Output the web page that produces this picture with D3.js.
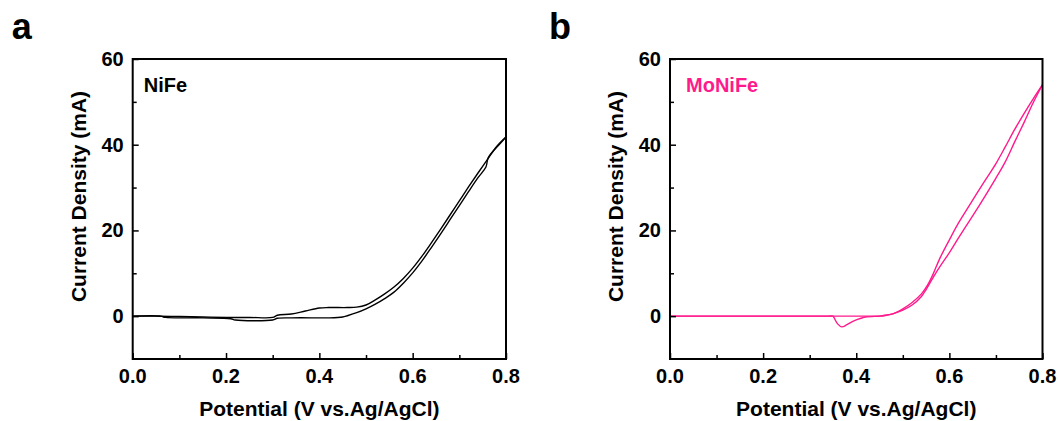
<!DOCTYPE html>
<html lang="en">
<head>
    <meta charset="UTF-8">
    <script src="https://d3js.org/d3.v7.min.js"></script>
    <title>NiFe vs MoNiFe CV</title>
    <style>
        html,
        body {
            margin: 0px;
            padding: 0px;
            background-color: #ffffff;
        }
        text {
            font-family: "Liberation Sans", Arial, sans-serif;
            font-weight: bold;
        }
    </style>
</head>
<body>
    <div id="chart"></div>
    <script>

        // axis ticks
        const potentialTicks = [0, 0.2, 0.4, 0.6, 0.8];
        const potentialMinor = [0.1, 0.3, 0.5, 0.7];
        const currentTicks = [0, 20, 40, 60];
        const currentMinor = [10, 30, 50];

        // NiFe, anodic sweep
        const nifeFwdV = [0, 0.05, 0.1, 0.15, 0.2, 0.25, 0.3, 0.31, 0.34, 0.37, 0.4, 0.42, 0.46, 0.48, 0.5, 0.52, 0.54, 0.56, 0.58, 0.6, 0.62, 0.64, 0.66, 0.68, 0.7, 0.72, 0.74, 0.76, 0.78, 0.8];
        const nifeFwdI = [0, 0, -0.1, -0.2, -0.3, -0.3, -0.3, 0.2, 0.5, 1.2, 1.9, 2.0, 2.0, 2.1, 2.6, 3.8, 5.2, 6.8, 8.8, 11.2, 14.0, 17.1, 20.3, 23.6, 26.9, 30.2, 33.4, 36.5, 39.6, 41.8];
        // NiFe, cathodic sweep
        const nifeRevV = [0.8, 0.787, 0.762, 0.757, 0.74, 0.72, 0.7, 0.68, 0.66, 0.64, 0.62, 0.6, 0.58, 0.56, 0.54, 0.52, 0.5, 0.48, 0.46, 0.45, 0.42, 0.4, 0.34, 0.31, 0.3, 0.22, 0.21, 0.15, 0.07, 0.06, 0];
        const nifeRevI = [41.8, 40.2, 37.0, 34.8, 32.3, 29.1, 25.8, 22.5, 19.2, 16.0, 12.9, 10.1, 7.7, 5.6, 4.1, 2.8, 1.7, 0.8, 0.1, -0.2, -0.4, -0.4, -0.4, -0.5, -0.9, -0.9, -0.6, -0.4, -0.3, 0, 0];

        // MoNiFe, anodic sweep
        const monifeFwdV = [0, 0.2, 0.4, 0.44, 0.45, 0.46, 0.48, 0.5, 0.52, 0.54, 0.555, 0.565, 0.58, 0.6, 0.62, 0.64, 0.66, 0.68, 0.7, 0.72, 0.74, 0.76, 0.78, 0.8];
        const monifeFwdI = [0, 0, 0, 0, 0, 0.2, 0.6, 1.7, 3.2, 5.2, 7.6, 9.8, 13.6, 17.8, 21.8, 25.3, 28.8, 32.2, 35.6, 39.5, 43.5, 47.2, 50.7, 54.0];
        // MoNiFe, cathodic sweep
        const monifeRevV = [0.8, 0.78, 0.76, 0.74, 0.72, 0.7, 0.68, 0.66, 0.64, 0.62, 0.6, 0.58, 0.565, 0.55, 0.54, 0.52, 0.5, 0.48, 0.46, 0.45, 0.42, 0.41, 0.395, 0.38, 0.369, 0.36, 0.352, 0.35, 0.34, 0.3, 0.2, 0];
        const monifeRevI = [54.0, 49.8, 45.1, 40.6, 36.0, 32.2, 28.6, 25.1, 21.7, 18.3, 14.8, 11.6, 9.0, 6.2, 4.6, 2.6, 1.4, 0.6, 0.1, 0, -0.2, -0.5, -1.1, -2.0, -2.5, -1.8, -0.3, 0, 0, 0, 0, 0];

        const panels = [
            {letter: 'a', name: 'NiFe', color: '#000000', left: 132.7, width: 373.3, nameDx: 11,
             branches: [[nifeFwdV, nifeFwdI], [nifeRevV, nifeRevI]]},
            {letter: 'b', name: 'MoNiFe', color: '#ff1a8c', left: 670, width: 372.5, nameDx: 16,
             branches: [[monifeFwdV, monifeFwdI], [monifeRevV, monifeRevI]]}
        ];

        const width = 1058, height = 421;
        const plotTop = 59, plotH = 300;

        let svg = d3.select('#chart').append('svg')
            .attr('width', width).attr('height', height);
        svg.append('rect').attr('width', width).attr('height', height).attr('fill', '#fff');

        panels.forEach(p => {
            let x = d3.scaleLinear().domain([0, 0.8]).range([p.left, p.left + p.width]);
            let y = d3.scaleLinear().domain([-10, 60]).range([plotTop + plotH, plotTop]);
            let g = svg.append('g');

            // curves
            let line = d3.line().x(d => x(d[0])).y(d => y(d[1])).curve(d3.curveCatmullRom.alpha(0.5));
            p.branches.forEach(([vs, is]) => {
                g.append('path')
                    .datum(vs.map((v, i) => [v, is[i]]))
                    .attr('d', line)
                    .attr('fill', 'none')
                    .attr('stroke', p.color)
                    .attr('stroke-width', 1.4)
                    .attr('stroke-linejoin', 'round');
            });

            // inward ticks, bottom and left only
            let xAxis = d3.axisTop(x).tickValues(potentialTicks).tickSize(6).tickFormat('');
            let xMinor = d3.axisTop(x).tickValues(potentialMinor).tickSize(4).tickFormat('');
            let yAxis = d3.axisRight(y).tickValues(currentTicks).tickSize(6).tickFormat('');
            let yMinor = d3.axisRight(y).tickValues(currentMinor).tickSize(4).tickFormat('');
            [xAxis, xMinor].forEach(a => {
                g.append('g').attr('transform', `translate(0,${plotTop + plotH})`).call(a)
                    .call(s => s.select('.domain').remove())
                    .selectAll('line').attr('stroke', '#000').attr('stroke-width', 1.5);
            });
            [yAxis, yMinor].forEach(a => {
                g.append('g').attr('transform', `translate(${p.left},0)`).call(a)
                    .call(s => s.select('.domain').remove())
                    .selectAll('line').attr('stroke', '#000').attr('stroke-width', 1.5);
            });

            // frame
            g.append('rect')
                .attr('x', p.left).attr('y', plotTop)
                .attr('width', p.width).attr('height', plotH)
                .attr('fill', 'none').attr('stroke', '#000').attr('stroke-width', 2);

            // tick labels
            g.selectAll('.xl').data(potentialTicks).join('text')
                .attr('x', d => x(d)).attr('y', 383)
                .attr('text-anchor', 'middle').attr('font-size', 20)
                .text(d => d.toFixed(1));
            g.selectAll('.yl').data(currentTicks).join('text')
                .attr('x', p.left - 9).attr('y', d => y(d)).attr('dy', '0.35em')
                .attr('text-anchor', 'end').attr('font-size', 20)
                .text(d => d);

            // axis titles
            g.append('text')
                .attr('x', p.left + p.width / 2).attr('y', 416)
                .attr('text-anchor', 'middle').attr('font-size', 21)
                .text('Potential (V vs.Ag/AgCl)');
            g.append('text')
                .attr('transform', `translate(${p.left - 47},196.5) rotate(-90)`)
                .attr('text-anchor', 'middle').attr('font-size', 21)
                .text('Current Density (mA)');

            // sample name and panel letter
            g.append('text')
                .attr('x', p.left + p.nameDx).attr('y', 92)
                .attr('font-size', 20).attr('fill', p.color)
                .text(p.name);
            g.append('text')
                .attr('x', p.left - 121).attr('y', 39)
                .attr('font-size', 36)
                .text(p.letter);
        });

    </script>
</body>
</html>
